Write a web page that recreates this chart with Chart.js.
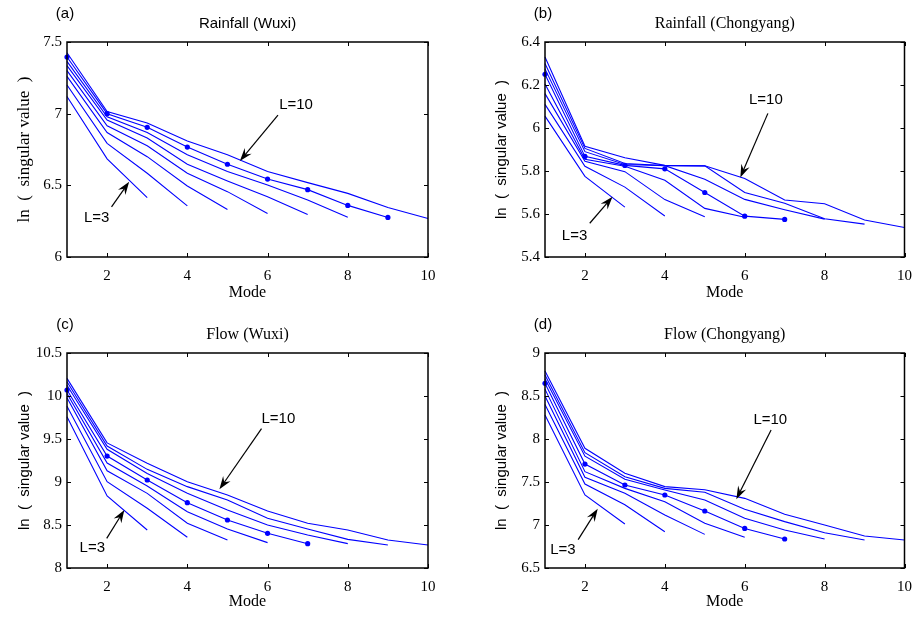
<!DOCTYPE html>
<html>
<head>
<meta charset="utf-8">
<script src="https://cdn.jsdelivr.net/npm/chart.js@4.4.0/dist/chart.umd.min.js"></script>
<style>
  html, body { margin: 0; padding: 0; background: #fff; }
  #wrap { position: relative; width: 922px; height: 623px; }
  canvas { position: absolute; }
</style>
</head>
<body>
<div id="wrap">
  <canvas id="pa" width="461" height="311" style="left:0;top:0"></canvas>
  <canvas id="pb" width="461" height="311" style="left:461px;top:0"></canvas>
  <canvas id="pc" width="461" height="312" style="left:0;top:311px"></canvas>
  <canvas id="pd" width="461" height="312" style="left:461px;top:311px"></canvas>
</div>
<script>
// ---- data ----
const modes = [1, 2, 3, 4, 5, 6, 7, 8, 9, 10];
const windowLengths = [3, 4, 5, 6, 7, 8, 9, 10];
const modeTicks = [2, 4, 6, 8, 10];

// (a) Rainfall (Wuxi)
const rainWuxi3 = [7.12, 6.685, 6.414];
const rainWuxi4 = [7.20, 6.793, 6.584, 6.357];
const rainWuxi5 = [7.26, 6.868, 6.70, 6.495, 6.332];
const rainWuxi6 = [7.30, 6.915, 6.776, 6.584, 6.456, 6.304];
const rainWuxi7 = [7.335, 6.955, 6.83, 6.647, 6.53, 6.42, 6.297];
const rainWuxi8 = [7.365, 6.978, 6.869, 6.713, 6.596, 6.502, 6.397, 6.278];
const rainWuxi9 = [7.395, 7.0, 6.905, 6.767, 6.647, 6.544, 6.47, 6.36, 6.276];
const rainWuxi10 = [7.425, 7.015, 6.935, 6.81, 6.713, 6.596, 6.519, 6.444, 6.346, 6.269];
const rainWuxiTicks = [6, 6.5, 7, 7.5];

// (b) Rainfall (Chongyang)
const rainChong3 = [6.055, 5.775, 5.632];
const rainChong4 = [6.11, 5.822, 5.725, 5.591];
const rainChong5 = [6.16, 5.845, 5.797, 5.667, 5.587];
const rainChong6 = [6.205, 5.855, 5.822, 5.757, 5.626, 5.585];
const rainChong7 = [6.25, 5.868, 5.826, 5.81, 5.70, 5.59, 5.575];
const rainChong8 = [6.275, 5.89, 5.83, 5.825, 5.762, 5.668, 5.62, 5.576];
const rainChong9 = [6.30, 5.905, 5.835, 5.825, 5.824, 5.70, 5.65, 5.578, 5.553];
const rainChong10 = [6.33, 5.915, 5.862, 5.826, 5.824, 5.765, 5.665, 5.648, 5.572, 5.537];
const rainChongTicks = [5.4, 5.6, 5.8, 6, 6.2, 6.4];

// (c) Flow (Wuxi)
const flowWuxi3 = [9.76, 8.837, 8.442];
const flowWuxi4 = [9.88, 9.004, 8.694, 8.357];
const flowWuxi5 = [9.98, 9.13, 8.868, 8.52, 8.326];
const flowWuxi6 = [10.03, 9.22, 8.953, 8.655, 8.453, 8.295];
const flowWuxi7 = [10.07, 9.302, 9.023, 8.76, 8.558, 8.403, 8.283];
const flowWuxi8 = [10.125, 9.38, 9.10, 8.868, 8.674, 8.50, 8.384, 8.283];
const flowWuxi9 = [10.165, 9.418, 9.147, 8.946, 8.79, 8.578, 8.453, 8.333, 8.268];
const flowWuxi10 = [10.205, 9.455, 9.217, 9.004, 8.849, 8.663, 8.52, 8.442, 8.326, 8.268];
const flowWuxiTicks = [8, 8.5, 9, 9.5, 10, 10.5];

// (d) Flow (Chongyang)
const flowChong3 = [8.28, 7.349, 7.012];
const flowChong4 = [8.40, 7.477, 7.235, 6.922];
const flowChong5 = [8.50, 7.554, 7.368, 7.116, 6.891];
const flowChong6 = [8.58, 7.62, 7.426, 7.271, 7.02, 6.857];
const flowChong7 = [8.647, 7.709, 7.465, 7.349, 7.163, 6.96, 6.837];
const flowChong8 = [8.70, 7.80, 7.531, 7.407, 7.29, 7.078, 6.942, 6.837];
const flowChong9 = [8.745, 7.841, 7.562, 7.426, 7.38, 7.182, 7.039, 6.91, 6.826];
const flowChong10 = [8.79, 7.892, 7.601, 7.446, 7.41, 7.31, 7.124, 7.0, 6.872, 6.826];
const flowChongTicks = [6.5, 7, 7.5, 8, 8.5, 9];

// window length marked with dots in each panel
const bestL = { a: 9, b: 7, c: 7, d: 7 };

// ---- drawing ----
const SERIF = "'Liberation Serif', 'Times New Roman', serif";
const SANS = "'Liberation Sans', Arial, sans-serif";

function drawArrow(ctx, x1, y1, x2, y2) {
  const ang = Math.atan2(y2 - y1, x2 - x1);
  const c = Math.cos(ang), s = Math.sin(ang);
  const len = 13, w = 4.5;
  ctx.beginPath();
  ctx.moveTo(x1, y1);
  ctx.lineTo(x2 - c * 8, y2 - s * 8);
  ctx.stroke();
  ctx.beginPath();
  ctx.moveTo(x2, y2);
  ctx.lineTo(x2 - len * c + w * s, y2 - len * s - w * c);
  ctx.lineTo(x2 - 0.65 * len * c, y2 - 0.65 * len * s);
  ctx.lineTo(x2 - len * c - w * s, y2 - len * s + w * c);
  ctx.closePath();
  ctx.fill();
}

const framePlugin = {
  id: 'frame',
  afterDatasetsDraw(chart, args, o) {
    const { ctx, chartArea: a, scales: { x, y } } = chart;
    ctx.save();
    ctx.strokeStyle = '#000';
    ctx.fillStyle = '#000';
    ctx.lineWidth = 1.5;
    ctx.strokeRect(a.left, a.top, a.right - a.left, a.bottom - a.top);
    ctx.lineWidth = 1;
    ctx.beginPath();
    x.ticks.forEach(t => {
      const px = Math.round(x.getPixelForValue(t.value)) + 0.5;
      ctx.moveTo(px, a.bottom); ctx.lineTo(px, a.bottom - 4);
      ctx.moveTo(px, a.top); ctx.lineTo(px, a.top + 4);
    });
    y.ticks.forEach(t => {
      const py = Math.round(y.getPixelForValue(t.value)) + 0.5;
      ctx.moveTo(a.left, py); ctx.lineTo(a.left + 4, py);
      ctx.moveTo(a.right, py); ctx.lineTo(a.right - 4, py);
    });
    ctx.stroke();

    // panel tag and title
    ctx.textAlign = 'center';
    ctx.textBaseline = 'middle';
    ctx.font = '15px ' + SANS;
    ctx.fillText(o.tag, a.left - 2, 14);
    ctx.font = o.titleSerif ? '16px ' + SERIF : '15px ' + SANS;
    ctx.fillText(o.title, (a.left + a.right) / 2, 24);

    // arrows with labels
    ctx.font = '15px ' + SANS;
    ctx.lineWidth = 1.2;
    o.notes.forEach(n => {
      ctx.fillText(n.text, x.getPixelForValue(n.at[0]), y.getPixelForValue(n.at[1]));
      drawArrow(ctx,
        x.getPixelForValue(n.from[0]), y.getPixelForValue(n.from[1]),
        x.getPixelForValue(n.to[0]), y.getPixelForValue(n.to[1]));
    });
    ctx.restore();
  }
};

function buildSets(series, best) {
  return series.map((vals, i) => ({
    label: 'L=' + windowLengths[i],
    data: vals.map((v, j) => ({ x: modes[j], y: v })),
    borderColor: '#0000ff',
    backgroundColor: '#0000ff',
    borderWidth: 1.1,
    pointRadius: windowLengths[i] === best ? 2.6 : 0,
    pointBorderWidth: 0,
    pointBackgroundColor: '#0000ff',
    tension: 0,
    fill: false,
    clip: 4
  }));
}

function makePanel(id, opt) {
  const cv = document.getElementById(id);
  const H = cv.height;
  new Chart(cv, {
    type: 'line',
    data: { datasets: buildSets(opt.series, opt.best) },
    plugins: [framePlugin],
    options: {
      responsive: false,
      animation: false,
      layout: { padding: { top: 42, right: opt.padRight, left: 0, bottom: 0 } },
      plugins: {
        legend: { display: false },
        tooltip: { enabled: false },
        frame: opt
      },
      scales: {
        x: {
          type: 'linear',
          min: 1, max: 10,
          afterBuildTicks: s => { s.ticks = modeTicks.map(v => ({ value: v })); },
          afterFit: s => { s.height = H - 257; },
          grid: { display: false, drawTicks: false },
          border: { display: false },
          ticks: { color: '#000', font: { family: SERIF, size: 15 }, padding: 10, maxRotation: 0 },
          title: { display: true, text: 'Mode', color: '#000', font: { family: SERIF, size: 16 },
                   padding: { top: 0, bottom: opt.modePad } }
        },
        y: {
          type: 'linear',
          min: opt.yTicks[0], max: opt.yTicks[opt.yTicks.length - 1],
          afterBuildTicks: s => { s.ticks = opt.yTicks.map(v => ({ value: v })); },
          afterFit: s => { s.width = opt.left; },
          grid: { display: false, drawTicks: false },
          border: { display: false },
          ticks: { color: '#000', font: { family: SERIF, size: 15 }, padding: 5,
                   callback: v => String(v) },
          title: { display: true, text: opt.yLabel, color: '#000',
                   font: { family: opt.ySerif ? SERIF : SANS, size: opt.ySerif ? 17 : 15 },
                   padding: { top: opt.yPad, bottom: 0 } }
        }
      }
    }
  });
}

makePanel('pa', {
  tag: '(a)', title: 'Rainfall (Wuxi)', titleSerif: false,
  series: [rainWuxi3, rainWuxi4, rainWuxi5, rainWuxi6, rainWuxi7, rainWuxi8, rainWuxi9, rainWuxi10],
  best: bestL.a, yTicks: rainWuxiTicks, left: 67, padRight: 33, modePad: 9, yPad: 14,
  yLabel: 'ln  (  singular value  )', ySerif: true,
  notes: [
    { text: 'L=10', at: [6.71, 7.06], from: [6.26, 6.99], to: [5.31, 6.67] },
    { text: 'L=3', at: [1.74, 6.27], from: [2.11, 6.35], to: [2.55, 6.525] }
  ]
});

makePanel('pb', {
  tag: '(b)', title: 'Rainfall (Chongyang)', titleSerif: true,
  series: [rainChong3, rainChong4, rainChong5, rainChong6, rainChong7, rainChong8, rainChong9, rainChong10],
  best: bestL.b, yTicks: rainChongTicks, left: 84, padRight: 14, modePad: 9, yPad: 32,
  yLabel: 'ln  (  singular value  )', ySerif: false,
  notes: [
    { text: 'L=10', at: [6.53, 6.13], from: [6.58, 6.068], to: [5.89, 5.77] },
    { text: 'L=3', at: [1.74, 5.50], from: [2.12, 5.557], to: [2.69, 5.68] }
  ]
});

makePanel('pc', {
  tag: '(c)', title: 'Flow (Wuxi)', titleSerif: true,
  series: [flowWuxi3, flowWuxi4, flowWuxi5, flowWuxi6, flowWuxi7, flowWuxi8, flowWuxi9, flowWuxi10],
  best: bestL.c, yTicks: flowWuxiTicks, left: 67, padRight: 33, modePad: 12, yPad: 16,
  yLabel: 'ln  (  singular value  )', ySerif: false,
  notes: [
    { text: 'L=10', at: [6.27, 9.73], from: [5.85, 9.62], to: [4.80, 8.915] },
    { text: 'L=3', at: [1.63, 8.23], from: [1.99, 8.345], to: [2.43, 8.675] }
  ]
});

makePanel('pd', {
  tag: '(d)', title: 'Flow (Chongyang)', titleSerif: true,
  series: [flowChong3, flowChong4, flowChong5, flowChong6, flowChong7, flowChong8, flowChong9, flowChong10],
  best: bestL.d, yTicks: flowChongTicks, left: 84, padRight: 14, modePad: 12, yPad: 32,
  yLabel: 'ln  (  singular value  )', ySerif: false,
  notes: [
    { text: 'L=10', at: [6.64, 8.22], from: [6.66, 8.105], to: [5.79, 7.30] },
    { text: 'L=3', at: [1.45, 6.71], from: [1.83, 6.83], to: [2.32, 7.19] }
  ]
});
</script>
</body>
</html>
